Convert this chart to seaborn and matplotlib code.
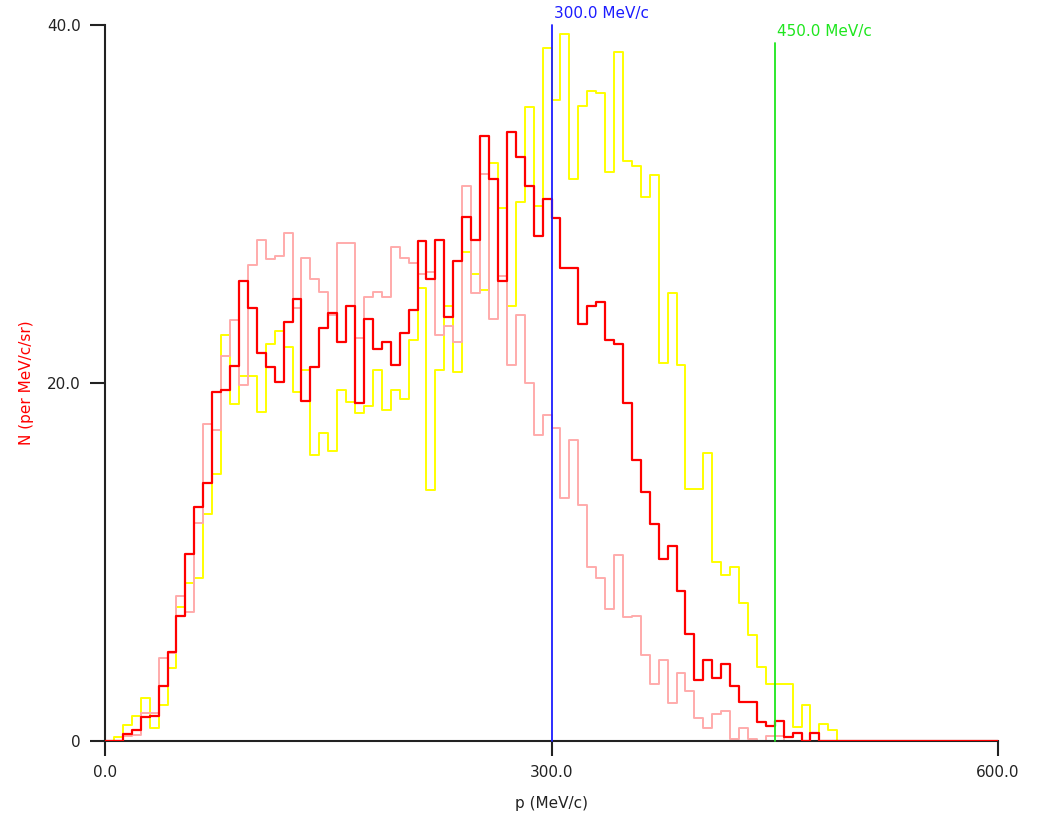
import numpy as np
import pandas as pd
import matplotlib
matplotlib.use("Agg")
import matplotlib.pyplot as plt
import seaborn as sns

# histogram contents, 6 MeV/c bins starting at p = 0 (bins past the end are empty)
bin_width = 6.0
p_max = 600.0

red = [0, 0, 0.37, 0.61, 1.32, 1.41, 3.09, 4.99, 7.0, 10.43,
       13.09, 14.4, 19.48, 19.6, 20.97, 25.7, 24.17, 21.7, 20.9, 20.07,
       23.39, 24.7, 19.0, 20.9, 23.1, 23.9, 22.3, 24.3, 18.9, 23.6,
       21.9, 22.3, 21.0, 22.8, 24.1, 27.95, 25.8, 28.0, 23.7, 26.8,
       29.3, 28.0, 33.8, 31.4, 25.7, 34.0, 32.6, 31.0, 28.2, 30.3,
       29.2, 26.4, 26.4, 23.3, 24.3, 24.5, 22.4, 22.2, 18.9, 15.7,
       13.9, 12.1, 10.15, 10.9, 8.4, 6.0, 3.4, 4.5, 3.5, 4.3,
       3.1, 2.2, 2.2, 1.08, 0.84, 1.1, 0.2, 0.43, 0.0, 0.43,
       0, 0, 0, 0]

pink = [0, 0, 0.3, 0.35, 1.56, 1.56, 4.63, 4.9, 8.1, 7.22,
        12.2, 17.7, 17.4, 21.5, 23.5, 19.9, 26.6, 28.0, 26.9, 27.1,
        28.4, 24.2, 27.0, 25.8, 25.1, 23.8, 27.8, 27.8, 22.5, 24.8,
        25.1, 24.8, 27.6, 27.0, 26.7, 26.1, 26.2, 22.7, 23.2, 22.3,
        31.0, 25.0, 31.7, 23.6, 26.0, 21.0, 23.8, 20.0, 17.1, 18.2,
        17.5, 13.6, 16.8, 13.2, 9.7, 9.1, 7.4, 10.4, 6.9, 7.0,
        4.8, 3.2, 4.5, 2.1, 3.8, 2.8, 1.27, 0.7, 1.5, 1.7,
        0.1, 0.7, 0.1, 0, 0.28, 0.28, 0, 0, 0, 0,
        0, 0, 0, 0]

yellow = [0, 0.2, 0.9, 1.4, 2.38, 0.71, 2.0, 4.1, 7.5, 8.8,
          9.1, 12.7, 14.9, 22.7, 18.8, 20.4, 20.4, 18.36, 22.18, 22.9,
          22.0, 19.5, 20.7, 16.0, 17.2, 16.2, 19.6, 18.96, 18.3, 18.7,
          20.7, 18.5, 19.6, 19.1, 22.4, 25.3, 14.0, 20.7, 24.3, 20.6,
          27.3, 26.1, 25.2, 32.3, 29.8, 24.3, 30.1, 35.4, 29.9, 38.7,
          35.8, 39.5, 31.4, 35.5, 36.3, 36.2, 31.8, 38.5, 32.4, 32.1,
          30.4, 31.6, 21.1, 25.0, 21.0, 14.1, 14.1, 16.1, 10.0, 9.3,
          9.7, 7.7, 5.9, 4.15, 3.2, 3.2, 3.2, 0.8, 2.0, 0.46,
          0.95, 0.6, 0, 0]

# momentum cut markers
markers = [300.0, 450.0]
marker_tops = [40.0, 39.0]
marker_labels = ["300.0 MeV/c", "450.0 MeV/c"]
marker_colors = ["#1c1cff", "#1ee61e"]

centers = np.arange(len(red)) * bin_width + bin_width / 2
df = pd.DataFrame({"p": centers, "red": red, "pink": pink, "yellow": yellow})

sns.set_style("white")
plt.rcParams["font.family"] = ["DejaVu Sans"]

fig = plt.figure(figsize=(10.44, 8.18), dpi=100)
ax = fig.add_axes([105 / 1044, 1 - 741 / 818, 893 / 1044, 716 / 818])

# yellow under pink under red; red sits on top of the axis line
for col, color, lw, z in [("yellow", "#ffff00", 1.4, 2.0),
                          ("pink", "#ffabab", 1.4, 2.1),
                          ("red", "#ff0000", 1.6, 3.0)]:
    sns.histplot(data=df, x="p", weights=col, binwidth=bin_width,
                 binrange=(0, p_max), element="step", fill=False,
                 color=color, linewidth=lw, ax=ax, zorder=z)

for xm, top, lab, c in zip(markers, marker_tops, marker_labels, marker_colors):
    ax.plot([xm, xm], [0, top], color=c, linewidth=1.3, zorder=4, clip_on=False)
    ax.text(xm + 1.8, top + 0.2, lab, color=c, fontsize=11, ha="left", va="bottom")

ax.set_xlim(0, p_max)
ax.set_ylim(0, 40)
ax.set_xticks([0, 300, 600])
ax.set_xticklabels(["0.0", "300.0", "600.0"])
ax.set_yticks([0, 20, 40])
ax.set_yticklabels(["0", "20.0", "40.0"])

for s in ["top", "right"]:
    ax.spines[s].set_visible(False)
for s in ["left", "bottom"]:
    ax.spines[s].set_color("#222222")
    ax.spines[s].set_linewidth(1.5)

ax.tick_params(bottom=True, left=True, direction="out", length=10.5, width=1.5,
               color="#222222", labelcolor="#222222", labelsize=11, pad=7)
ax.set_xlabel("p (MeV/c)", fontsize=11, color="#222222", labelpad=11)
ax.set_ylabel("N (per MeV/c/sr)", fontsize=11, color="red", labelpad=9)

fig.savefig("out.png", dpi=100)
